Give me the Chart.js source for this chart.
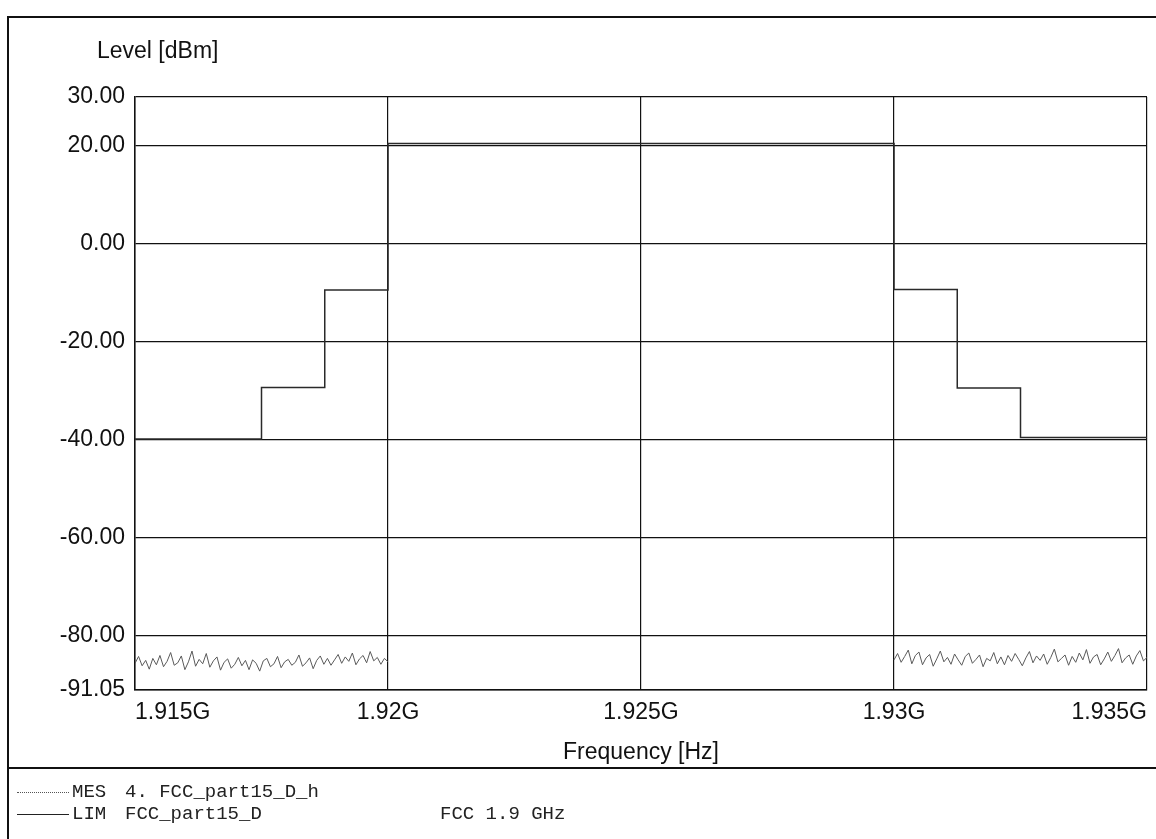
<!DOCTYPE html>
<html>
<head>
<meta charset="utf-8">
<script src="https://cdn.jsdelivr.net/npm/chart.js@4.4.1/dist/chart.umd.min.js"></script>
<style>
    html, body { margin: 0; padding: 0; background: #ffffff; }
    #wrap { position: relative; width: 1156px; height: 839px; overflow: hidden; }
    #chart { position: absolute; left: 0; top: 0; }
    .frame-top { position: absolute; left: 7px; top: 16px; width: 1160px; border-top: 2px solid #111; }
    .frame-left { position: absolute; left: 7px; top: 16px; height: 830px; border-left: 2px solid #111; }
    .frame-sep { position: absolute; left: 7px; top: 767px; width: 1160px; border-top: 2px solid #111; }
    .ylabel { position: absolute; left: 97px; top: 37px; font: 23px "Liberation Sans", Arial, sans-serif; color: #111; }
    .legend-row { position: absolute; left: 0; font: 19px "Liberation Mono", "Courier New", monospace; color: #222; white-space: pre; }
    .legend-row span { position: absolute; top: 0; }
    .sample { position: absolute; left: 17px; width: 52px; height: 0; }
</style>
</head>
<body>
<div id="wrap">
    <canvas id="chart" width="1156" height="839"></canvas>
    <div class="frame-top"></div>
    <div class="frame-left"></div>
    <div class="frame-sep"></div>
    <div class="ylabel">Level [dBm]</div>
    <div class="legend-row" style="top:781px;">
        <div class="sample" style="top:11px; border-top:1px dotted #555;"></div>
        <span style="left:72px;">MES</span>
        <span style="left:125px;">4. FCC_part15_D_h</span>
    </div>
    <div class="legend-row" style="top:803px;">
        <div class="sample" style="top:11px; border-top:1.5px solid #222;"></div>
        <span style="left:72px;">LIM</span>
        <span style="left:125px;">FCC_part15_D</span>
        <span style="left:440px;">FCC 1.9 GHz</span>
    </div>
</div>
<script>
// ------------------------------------------------------------------ DATA ------------------------------------------------------------------
const xTicks = [1.915e9, 1.92e9, 1.925e9, 1.93e9, 1.935e9];
const xTickLabels = ['1.915G', '1.92G', '1.925G', '1.93G', '1.935G'];
const yTicks = [30, 20, 0, -20, -40, -60, -80, -91.05];

// limit line: level holds from each break frequency up to the next one
const limitFreqs  = [1.915e9, 1.9175e9, 1.91875e9, 1.92e9, 1.93e9, 1.93125e9, 1.9325e9, 1.935e9];
const limitLevels = [-39.8,   -29.3,    -9.4,      20.5,   -9.3,   -29.4,     -39.5,    -39.5];

// measured noise floor, two sweeps outside the band
const sweepLeft  = [1.915e9, 1.92e9];
const sweepRight = [1.93e9, 1.935e9];
const noiseLeft = [-85.6,-84.2,-86.1,-85.0,-86.8,-84.6,-85.9,-84.0,-86.3,-85.2,-83.4,-86.0,-85.5,-84.1,-86.9,-85.3,-83.1,-86.2,
    -84.8,-85.7,-83.6,-86.4,-85.1,-84.3,-87.0,-85.4,-84.7,-86.6,-85.8,-84.4,-86.1,-85.0,-86.9,-84.9,-85.6,-87.2,-85.1,-84.6,
    -86.3,-85.7,-84.2,-86.5,-85.3,-84.8,-86.0,-85.4,-83.9,-86.2,-85.5,-84.5,-86.7,-85.0,-84.1,-85.8,-84.6,-86.0,-84.9,-83.8,
    -85.6,-84.3,-85.2,-83.5,-85.9,-84.7,-84.0,-85.5,-83.2,-85.1,-84.4,-85.8,-84.6,-85.3];
const noiseRight = [-84.9,-83.6,-85.4,-84.2,-82.9,-85.7,-84.0,-83.3,-85.9,-84.5,-83.8,-86.2,-84.7,-83.1,-85.3,-84.4,-85.8,-83.7,
    -84.9,-86.0,-84.2,-83.5,-85.6,-84.8,-83.9,-86.3,-84.6,-85.1,-83.4,-85.7,-84.3,-85.9,-84.0,-85.2,-83.6,-84.8,-86.1,-84.5,
    -83.2,-85.5,-84.1,-85.0,-83.7,-85.8,-84.4,-82.7,-85.3,-84.6,-83.9,-86.0,-84.2,-85.4,-83.5,-84.9,-82.8,-85.6,-84.3,-83.8,
    -85.9,-84.7,-83.3,-85.2,-84.0,-82.6,-85.5,-84.5,-83.9,-85.8,-84.1,-83.0,-85.1,-84.4];

// ------------------------------------------------------------------ CHART ------------------------------------------------------------------
function sweepPoints(range, values) {
    const step = (range[1] - range[0]) / (values.length - 1);
    return values.map((v, i) => ({x: range[0] + i * step, y: v}));
}

const limitPoints = limitFreqs.map((f, i) => ({x: f, y: limitLevels[i]}));
const mesPoints = sweepPoints(sweepLeft, noiseLeft)
    .concat([{x: (sweepLeft[1] + sweepRight[0]) / 2, y: null}])
    .concat(sweepPoints(sweepRight, noiseRight));

const tickFont = {family: '"Liberation Sans", Arial, sans-serif', size: 23};

const ctx = document.getElementById('chart').getContext('2d');
const chart = new Chart(ctx, {
    type: 'line',
    data: {
        datasets: [{
            label: 'LIM',
            data: limitPoints,
            stepped: 'before',
            borderColor: '#2a2a2a',
            borderWidth: 1.5,
            pointRadius: 0,
            fill: false
        }, {
            label: 'MES',
            data: mesPoints,
            borderColor: '#5a5a5a',
            borderWidth: 1,
            pointRadius: 0,
            spanGaps: false,
            fill: false
        }]
    },
    options: {
        responsive: false,
        animation: false,
        layout: {
            padding: {left: 0, top: 97, right: 6, bottom: 69}
        },
        plugins: {
            legend: {display: false},
            tooltip: {enabled: false}
        },
        scales: {
            x: {
                type: 'linear',
                min: xTicks[0],
                max: xTicks[xTicks.length - 1],
                afterBuildTicks: (scale) => { scale.ticks = xTicks.map(v => ({value: v})); },
                afterFit: (scale) => { scale.height = 80; },
                ticks: {
                    align: 'inner',
                    padding: 9,
                    maxRotation: 0,
                    color: '#111',
                    font: tickFont,
                    callback: (value) => xTickLabels[xTicks.indexOf(value)]
                },
                grid: {color: '#111', lineWidth: 1.2, drawTicks: false},
                border: {color: '#111', width: 1.5},
                title: {
                    display: true,
                    text: 'Frequency [Hz]',
                    color: '#111',
                    font: tickFont,
                    padding: {top: 3}
                }
            },
            y: {
                min: -91.05,
                max: 30,
                afterBuildTicks: (scale) => { scale.ticks = yTicks.map(v => ({value: v})); },
                afterFit: (scale) => { scale.width = 135; },
                ticks: {
                    padding: 10,
                    color: '#111',
                    font: tickFont,
                    callback: (value) => value.toFixed(2)
                },
                grid: {color: '#111', lineWidth: 1.2, drawTicks: false},
                border: {color: '#111', width: 1.5}
            }
        }
    }
});
</script>
</body>
</html>
